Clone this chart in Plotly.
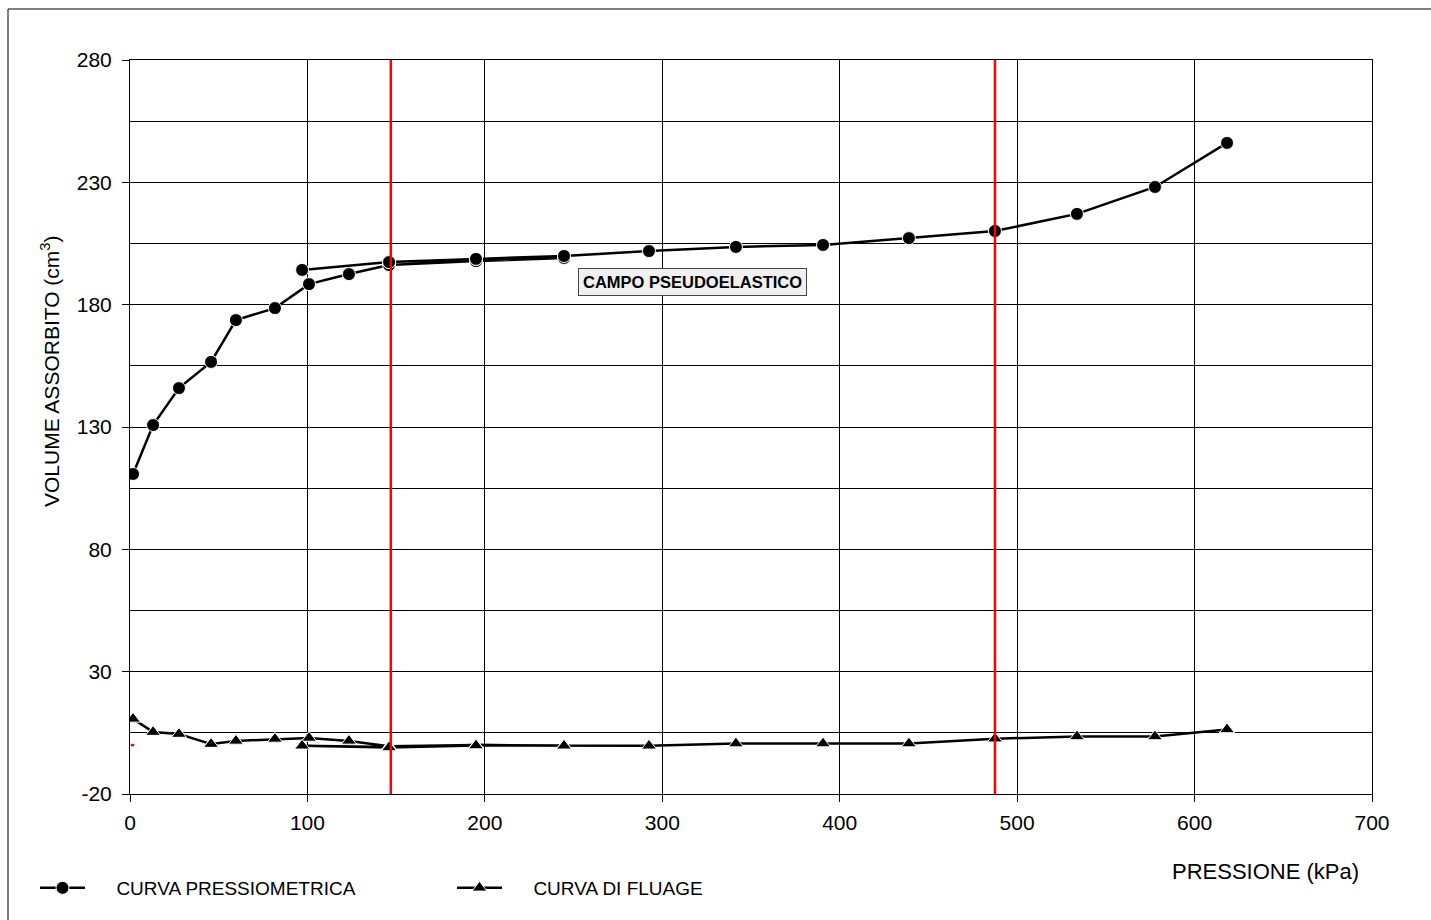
import plotly.graph_objects as go

# Pressure steps (kPa) including the unload/reload loop
pressione = [1.7, 13, 27.6, 45.7, 59.7, 81.7, 100.9, 123.4, 146, 195, 244.6,
             195, 146, 97, 146, 195, 244.6,
             292.5, 341.5, 390.6, 439, 487.5, 533.7, 577.7, 618.3]
# Absorbed volume (cm3) - pressiometric curve
volume = [110.8, 130.8, 145.9, 156.6, 173.7, 178.6, 188.4, 192.5, 196.2, 197.8, 199.1,
          198.6, 197.4, 194.2, 197.4, 198.7, 199.9,
          201.9, 203.6, 204.4, 207.2, 210.1, 217.1, 228.1, 246.1]
# Creep (fluage) curve
fluage = [10.7, 5.3, 4.5, 0.4, 1.7, 2.5, 2.9, 1.7, -0.5, 0.0, -0.2,
          0.0, -0.8, -0.3, -1.0, -0.2, -0.3,
          -0.3, 0.6, 0.6, 0.6, 2.6, 3.5, 3.5, 6.4]

limiti_pseudoelastico = [147, 487.5]
red_mark_x = [0.4, 2.4]
red_mark_y = [0, 0]

x_ticks = [0, 100, 200, 300, 400, 500, 600, 700]
y_ticks = [-20, 30, 80, 130, 180, 230, 280]
y_ticktext = ["-20", "30", "80", "130", "180", "230", "280"]

FONT = "Liberation Sans, Arial, sans-serif"
NB = "\u00a0"

fig = go.Figure()

fig.add_trace(go.Scatter(
    x=red_mark_x, y=red_mark_y, mode="lines",
    line=dict(color="red", width=2.5), showlegend=False, hoverinfo="skip"))

fig.add_trace(go.Scatter(
    x=pressione, y=volume, mode="lines+markers",
    name=NB * 5 + "CURVA PRESSIOMETRICA",
    line=dict(color="black", width=2.5),
    marker=dict(symbol="circle", size=13, color="black", line=dict(color="white", width=1))))

fig.add_trace(go.Scatter(
    x=pressione, y=fluage, mode="lines+markers",
    name=NB * 5 + "CURVA DI FLUAGE",
    line=dict(color="black", width=2.5),
    marker=dict(symbol="triangle-up", size=13, color="black", line=dict(color="white", width=1))))

shapes = []
for xv in limiti_pseudoelastico:
    shapes.append(dict(type="line", xref="x", yref="paper", x0=xv, x1=xv, y0=0, y1=1,
                       line=dict(color="red", width=2.5), layer="above"))
# outer frame
shapes.append(dict(type="rect", xref="paper", yref="paper",
                   x0=(8 - 130) / 1242, x1=1.06, y0=-0.2, y1=(794 - 9) / 734,
                   line=dict(color="black", width=1), fillcolor="rgba(0,0,0,0)", layer="below"))

fig.update_layout(
    width=1431, height=920,
    margin=dict(l=130, r=59, t=60, b=126),
    paper_bgcolor="white", plot_bgcolor="white",
    font=dict(family=FONT, color="black", size=20),
    shapes=shapes,
    showlegend=True,
    legend=dict(orientation="h", x=(35 - 130) / 1242, xanchor="left",
                y=-(888 - 794) / 734, yanchor="middle",
                font=dict(size=19, family=FONT), itemwidth=45,
                entrywidth=357, entrywidthmode="pixels",
                bgcolor="rgba(0,0,0,0)"),
    annotations=[
        dict(text="<b>CAMPO PSEUDOELASTICO</b>", x=317.3, y=189.1, xref="x", yref="y",
             showarrow=False, font=dict(size=16.5, family=FONT, color="black"),
             bgcolor="#f0f0f0", bordercolor="#444", borderwidth=1, borderpad=4),
        dict(text="PRESSIONE (kPa)", x=(1265 - 130) / 1242, y=-(871 - 794) / 734,
             xref="paper", yref="paper", showarrow=False, font=dict(size=22, family=FONT),
             xanchor="center", yanchor="middle"),
        dict(text="VOLUME ASSORBITO (cm<sup>3</sup>)", x=(50 - 130) / 1242, y=(794 - 371) / 734,
             xref="paper", yref="paper", showarrow=False, textangle=-90,
             font=dict(size=21, family=FONT), xanchor="center", yanchor="middle"),
    ],
)

fig.update_xaxes(
    range=[0, 700], tickvals=x_ticks, ticks="outside", ticklen=7, tickcolor="black",
    showline=True, linecolor="black", linewidth=1, mirror=True,
    showgrid=True, gridcolor="black", gridwidth=1, zeroline=False,
    tickfont=dict(size=21, family=FONT), ticklabelstandoff=3)

fig.update_yaxes(
    range=[-20, 280], tickvals=y_ticks, ticktext=y_ticktext, ticks="outside", ticklen=7,
    tickcolor="black",
    showline=True, linecolor="black", linewidth=1, mirror=True,
    showgrid=True, gridcolor="black", gridwidth=1, zeroline=False,
    minor=dict(dtick=25, tick0=-20, showgrid=True, gridcolor="black", gridwidth=1, ticks=""),
    tickfont=dict(size=21, family=FONT), ticklabelstandoff=6)

fig.write_html("out.html")
